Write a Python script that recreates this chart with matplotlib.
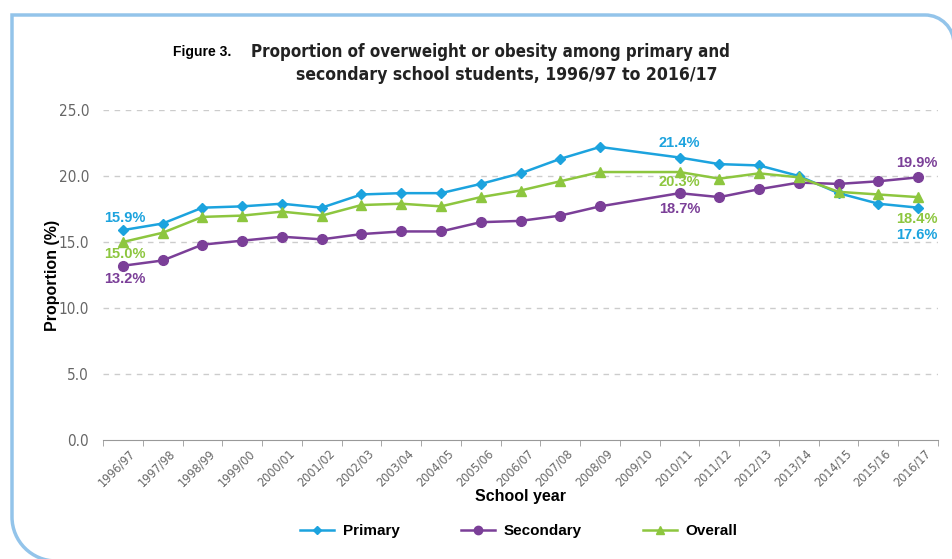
import numpy as np
import matplotlib
matplotlib.use('Agg')
import matplotlib.pyplot as plt
from matplotlib.patches import PathPatch
from matplotlib.path import Path
from matplotlib.transforms import ScaledTranslation
from matplotlib.lines import Line2D

# 数据
years = ['1996/97', '1997/98', '1998/99', '1999/00', '2000/01', '2001/02', '2002/03',
         '2003/04', '2004/05', '2005/06', '2006/07', '2007/08', '2008/09', '2009/10',
         '2010/11', '2011/12', '2012/13', '2013/14', '2014/15', '2015/16', '2016/17']
primary = [15.9, 16.4, 17.6, 17.7, 17.9, 17.6, 18.6, 18.7, 18.7, 19.4, 20.2, 21.3, 22.2, None,
           21.4, 20.9, 20.8, 20.0, 18.7, 17.9, 17.6]
secondary = [13.2, 13.6, 14.8, 15.1, 15.4, 15.2, 15.6, 15.8, 15.8, 16.5, 16.6, 17.0, 17.7, None,
             18.7, 18.4, 19.0, 19.5, 19.4, 19.6, 19.9]
overall = [15.0, 15.7, 16.9, 17.0, 17.3, 17.0, 17.8, 17.9, 17.7, 18.4, 18.9, 19.6, 20.3, None,
           20.3, 19.8, 20.2, 19.9, 18.8, 18.6, 18.4]
yticks = [0, 5, 10, 15, 20, 25]

C_PRI = '#1ca3de'
C_SEC = '#7b3f98'
C_ALL = '#8dc63f'
GREY = '#666666'
SANS = ['Liberation Sans', 'DejaVu Sans']
COND = ['DejaVu Sans']

W, H = 952, 559
fig = plt.figure(figsize=(W / 100, H / 100), dpi=100)

# 外框：覆盖整张图的坐标轴，单位为像素（y 向下）
bg = fig.add_axes([0, 0, 1, 1], zorder=-1)
bg.set_xlim(0, W)
bg.set_ylim(H, 0)
bg.axis('off')
L, T, R, B = 12, 15, 954, 561
r1, r2 = 29, 44   # 右上角、左下角圆角半径
k = 0.5523
verts = [(R, B + 40), (R, T + r1),
         (R, T + r1 * (1 - k)), (R - r1 * (1 - k), T), (R - r1, T),
         (L, T), (L, B - r2),
         (L, B - r2 * (1 - k)), (L + r2 * (1 - k), B), (L + r2, B),
         (R + 40, B)]
codes = [Path.MOVETO, Path.LINETO,
         Path.CURVE4, Path.CURVE4, Path.CURVE4,
         Path.LINETO, Path.LINETO,
         Path.CURVE4, Path.CURVE4, Path.CURVE4,
         Path.LINETO]
bg.add_patch(PathPatch(Path(verts, codes), fill=False, edgecolor='#93c4ea',
                       linewidth=2.5, clip_on=False))

ax = fig.add_axes([103 / W, 1 - 440 / H, 835 / W, 330 / H])
ax.patch.set_alpha(0)


def valid(series):
    idx = [i for i, v in enumerate(series) if v is not None]
    return idx, [series[i] for i in idx]


for series, color, marker, ms in [(primary, C_PRI, 'D', 5),
                                   (secondary, C_SEC, 'o', 7),
                                   (overall, C_ALL, '^', 7)]:
    xi, yi = valid(series)
    ax.plot(xi, yi, color=color, marker=marker, markersize=ms, linewidth=1.8, zorder=3)

ax.set_xlim(-0.5, len(years) - 0.5)
ax.set_ylim(0, 25)
ax.set_yticks(yticks)
ax.set_yticklabels([f'{v:.1f}' for v in yticks], fontsize=11, color=GREY, family=COND,
                   fontstretch='condensed')
ax.tick_params(axis='y', length=0, pad=10)
for v in yticks[1:]:
    ax.axhline(v, color='#cccccc', linewidth=1, linestyle=(0, (4, 4)), zorder=1)

ax.set_xticks(range(len(years)))
ax.set_xticklabels(years, rotation=45, ha='right', rotation_mode='anchor',
                   fontsize=9, color=GREY, family=COND, fontstretch='condensed')
ax.set_xticks(np.arange(-0.5, len(years), 1), minor=True)
ax.tick_params(axis='x', which='major', length=0, pad=5)
ax.tick_params(axis='x', which='minor', length=4, color='#999999')
off = ScaledTranslation(6 / 100, 0, fig.dpi_scale_trans)
for lab in ax.get_xticklabels():
    lab.set_transform(lab.get_transform() + off)

for s in ['top', 'right', 'left']:
    ax.spines[s].set_visible(False)
ax.spines['bottom'].set_color('#999999')

ax.set_ylabel('Proportion (%)', fontsize=11.5, fontweight='bold', family=SANS, labelpad=-1)
ax.set_xlabel('School year', fontsize=11.5, fontweight='bold', family=SANS, labelpad=0)

# 数据标签
last = len(years) - 1
i11 = years.index('2010/11')
labels = [
    (0, primary[0], '15.9%', C_PRI, (2, 12)),
    (0, overall[0], '15.0%', C_ALL, (2, -12)),
    (0, secondary[0], '13.2%', C_SEC, (2, -13)),
    (i11, primary[i11], '21.4%', C_PRI, (0, 15)),
    (i11, overall[i11], '20.3%', C_ALL, (0, -10)),
    (i11, secondary[i11], '18.7%', C_SEC, (0, -16)),
    (last, secondary[last], '19.9%', C_SEC, (-1, 14)),
    (last, overall[last], '18.4%', C_ALL, (-1, -22)),
    (last, primary[last], '17.6%', C_PRI, (-1, -27)),
]
for x, y, txt, c, o in labels:
    ax.annotate(txt, (x, y), xytext=o, textcoords='offset pixels', ha='center', va='center',
                fontsize=10.5, fontweight='bold', color=c, family=SANS)

# 标题
fig.text(173 / W, 1 - 52 / H, 'Figure 3.', fontsize=10, fontweight='bold', family=SANS,
         ha='left', va='center')
fig.text(490 / W, 1 - 52 / H, 'Proportion of overweight or obesity among primary and',
         fontsize=12.2, fontweight='bold', family=COND, fontstretch='condensed',
         ha='center', va='center', color='#222222')
fig.text(507 / W, 1 - 75 / H, 'secondary school students, 1996/97 to 2016/17',
         fontsize=12.6, fontweight='bold', family=COND, fontstretch='condensed',
         ha='center', va='center', color='#222222')

# 图例
handles = [Line2D([], [], color=C_PRI, marker='D', markersize=4, linewidth=1.8),
           Line2D([], [], color=C_SEC, marker='o', markersize=6, linewidth=1.8),
           Line2D([], [], color=C_ALL, marker='^', markersize=6, linewidth=1.8)]
fig.legend(handles, ['Primary', 'Secondary', 'Overall'], loc='center',
           bbox_to_anchor=(519 / W, 1 - 531 / H), ncol=3, frameon=False,
           handlelength=2.2, columnspacing=4.0, handletextpad=0.6,
           prop={'family': SANS, 'weight': 'bold', 'size': 11})

fig.savefig('out.png', dpi=100)
